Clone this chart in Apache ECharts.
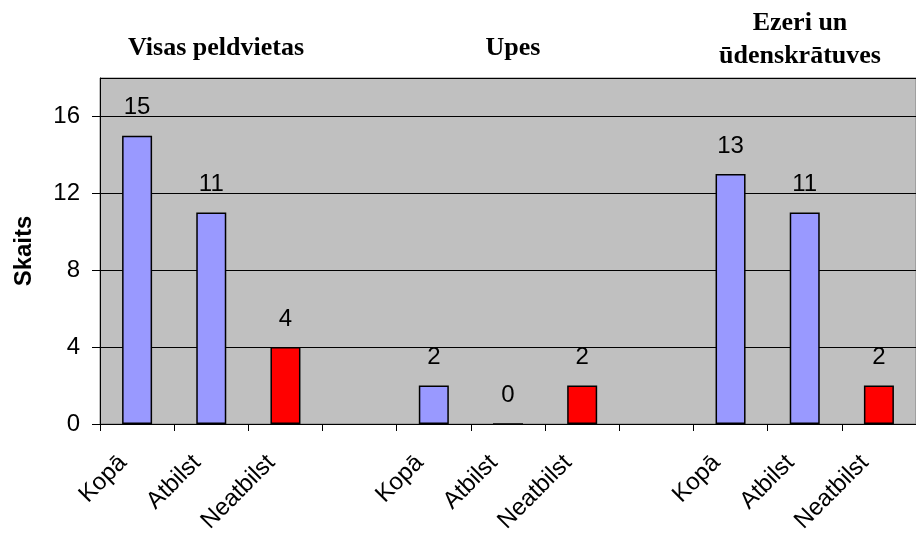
<!DOCTYPE html>
<html>
<head>
<meta charset="utf-8">
<script src="https://cdn.jsdelivr.net/npm/echarts@6/dist/echarts.min.js"></script>
<style>
html, body { margin: 0; padding: 0; background: #fff; }
#chart { width: 916px; height: 536px; }
</style>
</head>
<body>
<div id="chart"></div>
<script>
// kategorijas (tukšās vietas atdala grupas)
var categories = ['Kopā', 'Atbilst', 'Neatbilst', '', 'Kopā', 'Atbilst', 'Neatbilst', '', 'Kopā', 'Atbilst', 'Neatbilst'];
var values = [15, 11, 4, null, 2, 0, 2, null, 13, 11, 2];
var groupTitles = ['Visas peldvietas', 'Upes', 'Ezeri un\nūdenskrātuves'];
var yTicks = [0, 4, 8, 12, 16];

var myChart = echarts.init(document.getElementById('chart'));

var barData = values.map(function (v, i) {
    return {
        value: v,
        itemStyle: { color: categories[i] === 'Neatbilst' ? '#FF0000' : '#9999FF' }
    };
});

var option = {
    animation: false,
    backgroundColor: '#ffffff',
    title: [
        { text: groupTitles[0], left: 216, top: 32, textAlign: 'center' },
        { text: groupTitles[1], left: 513, top: 32, textAlign: 'center' },
        { text: groupTitles[2], left: 800, top: 7, textAlign: 'center' }
    ].map(function (t) {
        t.padding = 0;
        t.textStyle = {
            fontFamily: 'Liberation Serif',
            fontWeight: 'bold',
            fontSize: 26,
            lineHeight: 33,
            color: '#000'
        };
        return t;
    }),
    grid: {
        left: 100,
        top: 78,
        width: 825,
        height: 346,
        show: true,
        backgroundColor: '#C0C0C0',
        borderColor: '#808080',
        borderWidth: 1
    },
    xAxis: {
        type: 'category',
        data: categories,
        boundaryGap: true,
        axisLine: { lineStyle: { color: '#000', width: 1 } },
        axisTick: { show: true, length: 7, alignWithLabel: false, lineStyle: { color: '#000' } },
        axisLabel: {
            interval: 0,
            rotate: 45,
            margin: 21,
            padding: [0, 20, 0, 0],
            fontFamily: 'Liberation Sans',
            fontSize: 24,
            color: '#000'
        },
        splitLine: { show: false }
    },
    yAxis: {
        type: 'value',
        min: yTicks[0],
        max: 18,
        interval: 4,
        name: 'Skaits',
        nameLocation: 'middle',
        nameGap: 64,
        nameRotate: 90,
        nameTextStyle: {
            fontFamily: 'Liberation Sans',
            fontWeight: 'bold',
            fontSize: 24,
            color: '#000'
        },
        axisLine: { show: true, lineStyle: { color: '#000' } },
        axisTick: { show: true, length: 8, lineStyle: { color: '#000' } },
        axisLabel: {
            margin: 20,
            fontFamily: 'Liberation Sans',
            fontSize: 24,
            color: '#000',
            showMaxLabel: false
        },
        splitLine: { show: true, lineStyle: { color: '#000', width: 1 } }
    },
    series: [{
        type: 'bar',
        data: barData,
        barWidth: 30,
        itemStyle: { borderColor: '#000', borderWidth: 1.5 },
        label: {
            show: true,
            position: 'top',
            distance: 16,
            fontFamily: 'Liberation Sans',
            fontSize: 24,
            color: '#000'
        }
    }]
};

myChart.setOption(option);
</script>
</body>
</html>
